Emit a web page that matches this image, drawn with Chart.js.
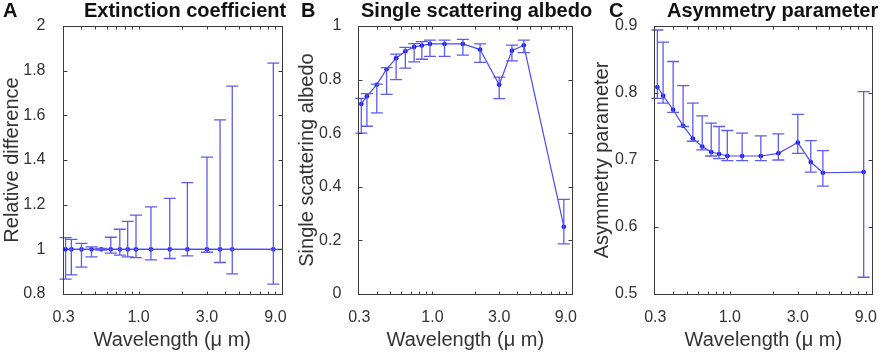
<!DOCTYPE html>
<html>
<head>
<meta charset="utf-8">
<script src="https://cdn.jsdelivr.net/npm/chart.js@4.4.1/dist/chart.umd.min.js"></script>
<style>
  body { margin: 0; background: #fff; }
  #wrap { position: relative; width: 886px; height: 356px; overflow: hidden; font-family: "Liberation Sans", Arial, sans-serif; }
  canvas { position: absolute; top: 0; }
  .lbl { position: absolute; top: 0; font-weight: bold; font-size: 20px; line-height: 20px; color: #111; white-space: nowrap; z-index: 2; }
</style>
</head>
<body>
<div id="wrap">
  <canvas id="chartA" width="295" height="356" style="left:0px"></canvas>
  <canvas id="chartB" width="295" height="356" style="left:295px"></canvas>
  <canvas id="chartC" width="296" height="356" style="left:590px"></canvas>
  <div class="lbl" style="left:3px">A</div>
  <div class="lbl" style="left:84px">Extinction coefficient</div>
  <div class="lbl" style="left:301px">B</div>
  <div class="lbl" style="left:361px">Single scattering albedo</div>
  <div class="lbl" style="left:609px">C</div>
  <div class="lbl" style="left:667px">Asymmetry parameter</div>
</div>
<script>
// wavelengths (um)
const wavelength = [0.31, 0.34, 0.40, 0.47, 0.55, 0.64, 0.74, 0.84, 0.96, 1.22, 1.65, 2.19, 3.0, 3.7, 4.5, 8.7];

// A: extinction coefficient, relative difference
const extMean = [1, 1, 1, 1, 1, 1, 1, 1, 1, 1, 1, 1, 1, 1, 1, 1];
const extHigh = [1.052, 1.045, 1.027, 1.011, 1.004, 1.054, 1.090, 1.125, 1.153, 1.190, 1.228, 1.299, 1.413, 1.580, 1.731, 1.834];
const extLow  = [0.867, 0.886, 0.920, 0.966, 0.997, 0.983, 0.974, 0.966, 0.963, 0.953, 0.959, 0.971, 0.987, 0.941, 0.890, 0.844];

// B: single scattering albedo
const ssaMean = [0.709, 0.738, 0.781, 0.839, 0.880, 0.906, 0.922, 0.927, 0.933, 0.933, 0.933, 0.912, 0.781, 0.908, 0.928, 0.251];
const ssaHigh = [0.730, 0.748, 0.783, 0.845, 0.895, 0.920, 0.934, 0.942, 0.947, 0.947, 0.950, 0.933, 0.809, 0.929, 0.947, 0.353];
const ssaLow  = [0.600, 0.626, 0.676, 0.745, 0.800, 0.843, 0.866, 0.876, 0.887, 0.887, 0.891, 0.864, 0.729, 0.870, 0.901, 0.187];

// C: asymmetry parameter
const asyMean = [0.809, 0.796, 0.775, 0.751, 0.732, 0.720, 0.712, 0.709, 0.706, 0.706, 0.706, 0.710, 0.726, 0.697, 0.681, 0.682];
const asyHigh = [0.894, 0.876, 0.847, 0.811, 0.785, 0.766, 0.755, 0.750, 0.744, 0.740, 0.736, 0.739, 0.768, 0.729, 0.714, 0.802];
const asyLow  = [0.792, 0.785, 0.771, 0.750, 0.728, 0.715, 0.706, 0.702, 0.699, 0.699, 0.699, 0.700, 0.710, 0.682, 0.661, 0.525];

// axes
const xMin = 0.295, xMax = 10;
const xTickLabels = [0.3, 1, 3, 9];
const xTickMarks = [0.4, 0.5, 0.6, 0.7, 0.8, 0.9, 1, 2, 3, 4, 5, 6, 7, 8, 9, 10];
const refLineX = [xMin, xMax];
const refLineY = [1, 1];

const FONT = '"Liberation Sans", Arial, sans-serif';
const TXT = '#333';
const LINE = '#4a4aff';
const BAR = '#5c5cee';

function pts(xs, ys) { return xs.map((x, i) => ({ x: x, y: ys[i] })); }

// error bars with caps
const errorBars = {
  id: 'errorBars',
  afterDatasetsDraw(chart) {
    const ctx = chart.ctx, xs = chart.scales.x, ys = chart.scales.y;
    chart.data.datasets.forEach(ds => {
      if (!ds.errLow) return;
      ctx.save();
      ctx.strokeStyle = BAR;
      ctx.lineWidth = 1.3;
      ds.data.forEach((p, i) => {
        const px = xs.getPixelForValue(p.x);
        const yh = ys.getPixelForValue(ds.errHigh[i]);
        const yl = ys.getPixelForValue(ds.errLow[i]);
        ctx.beginPath();
        ctx.moveTo(px, yh); ctx.lineTo(px, yl);
        ctx.moveTo(px - 6, yh); ctx.lineTo(px + 6, yh);
        ctx.moveTo(px - 6, yl); ctx.lineTo(px + 6, yl);
        ctx.stroke();
      });
      ctx.restore();
    });
  }
};

// matlab style box with inward ticks
const boxTicks = {
  id: 'boxTicks',
  afterDraw(chart) {
    const ctx = chart.ctx, a = chart.chartArea, xs = chart.scales.x, ys = chart.scales.y;
    ctx.save();
    ctx.strokeStyle = '#3a3a3a';
    ctx.lineWidth = 1;
    const L = Math.round(a.left) + 0.5, R = Math.round(a.right) + 0.5;
    const T = Math.round(a.top) + 0.5, B = Math.round(a.bottom) + 0.5;
    ctx.strokeRect(L, T, R - L, B - T);
    ctx.beginPath();
    xTickMarks.forEach(v => {
      const px = Math.round(xs.getPixelForValue(v)) + 0.5;
      ctx.moveTo(px, B); ctx.lineTo(px, B - 3);
      ctx.moveTo(px, T); ctx.lineTo(px, T + 3);
    });
    ys.ticks.forEach(t => {
      const py = Math.round(ys.getPixelForValue(t.value)) + 0.5;
      ctx.moveTo(L, py); ctx.lineTo(L + 4, py);
      ctx.moveTo(R, py); ctx.lineTo(R - 4, py);
    });
    ctx.stroke();
    ctx.restore();
  }
};

function makeChart(id, datasets, yOpts, yTitle, yWidth, padRight) {
  return new Chart(document.getElementById(id), {
    type: 'line',
    data: { datasets: datasets },
    options: {
      responsive: false,
      animation: false,
      layout: { padding: { top: 26, right: padRight, left: 0, bottom: 0 } },
      plugins: { legend: { display: false }, tooltip: { enabled: false } },
      scales: {
        x: {
          type: 'logarithmic',
          min: xMin, max: xMax,
          grid: { display: false },
          border: { display: false },
          afterBuildTicks: s => { s.ticks = [0.3].concat(xTickMarks).map(v => ({ value: v })); },
          afterFit: s => { s.height = 62; },
          ticks: {
            autoSkip: false, maxRotation: 0, padding: 6,
            color: TXT, font: { family: FONT, size: 16 },
            callback: v => xTickLabels.includes(v) ? v.toFixed(1) : ''
          },
          title: {
            display: true, text: 'Wavelength (\u03bc m)', color: TXT,
            font: { family: FONT, size: 20 }, padding: { top: 0, bottom: 4 }
          }
        },
        y: {
          min: yOpts.min, max: yOpts.max,
          grid: { display: false },
          border: { display: false },
          afterFit: s => { s.width = yWidth; },
          ticks: {
            stepSize: yOpts.step, padding: 9, color: TXT, font: { family: FONT, size: 16 },
            callback: v => String(parseFloat(v.toFixed(2)))
          },
          title: {
            display: true, text: yTitle, color: TXT,
            font: { family: FONT, size: 20 }, padding: { top: 0, bottom: 0 }
          }
        }
      }
    },
    plugins: [errorBars, boxTicks]
  });
}

function series(ys, lo, hi) {
  return {
    data: pts(wavelength, ys),
    errLow: lo, errHigh: hi,
    borderColor: LINE, borderWidth: 1.2,
    pointRadius: 2.3, pointBorderWidth: 0,
    pointBackgroundColor: '#1212ff',
    tension: 0, clip: false
  };
}

makeChart('chartA', [
  { data: pts(refLineX, refLineY), borderColor: LINE, borderWidth: 1.2, pointRadius: 0 },
  series(extMean, extLow, extHigh)
], { min: 0.8, max: 2, step: 0.2 }, 'Relative difference', 62.5, 13);

makeChart('chartB', [series(ssaMean, ssaLow, ssaHigh)],
  { min: 0, max: 1, step: 0.2 }, 'Single scattering albedo', 63.3, 17.7);

makeChart('chartC', [series(asyMean, asyLow, asyHigh)],
  { min: 0.5, max: 0.9, step: 0.1 }, 'Asymmetry parameter', 64.3, 13.7);
</script>
</body>
</html>
